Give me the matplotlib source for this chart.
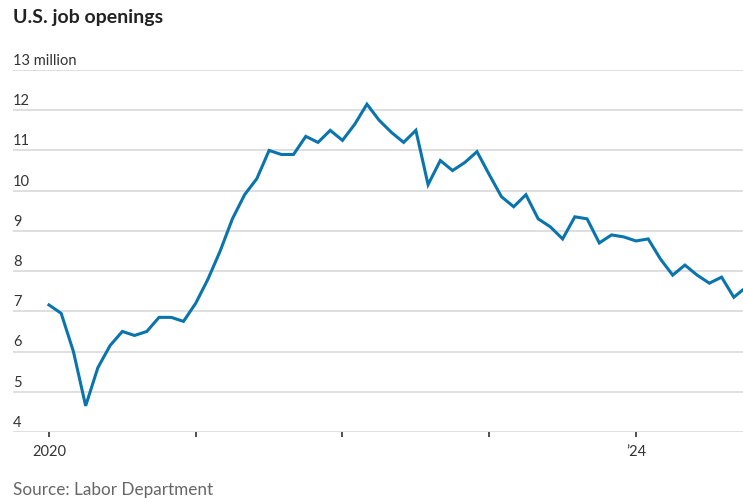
import matplotlib.pyplot as plt
from matplotlib.transforms import offset_copy

plt.rcParams['font.family'] = ['Lato', 'DejaVu Sans']

# monthly job openings, millions, Jan 2020 - Oct 2024
openings = [
    7.16, 6.95, 6.0, 4.65, 5.6, 6.15, 6.5, 6.4, 6.5, 6.85, 6.85, 6.75,      # 2020
    7.2, 7.8, 8.5, 9.3, 9.9, 10.3, 11.0, 10.9, 10.9, 11.35, 11.2, 11.5,     # 2021
    11.25, 11.65, 12.15, 11.75, 11.45, 11.2, 11.5, 10.15, 10.75, 10.5, 10.7, 10.97,  # 2022
    10.4, 9.85, 9.6, 9.9, 9.3, 9.1, 8.8, 9.35, 9.3, 8.7, 8.9, 8.85,         # 2023
    8.75, 8.8, 8.3, 7.9, 8.15, 7.9, 7.7, 7.85, 7.35, 7.6,                   # 2024
]
months = list(range(len(openings)))
ytick_values = [4, 5, 6, 7, 8, 9, 10, 11, 12, 13]
ytick_labels = ['4', '5', '6', '7', '8', '9', '10', '11', '12', '13 million']
xtick_months = [0, 12, 24, 36, 48]
xtick_labels = ['2020', '', '', '', '\u201924']

fig = plt.figure(figsize=(7.43, 4.98), dpi=100)
ax = fig.add_axes([13 / 743, 1 - 432 / 498, 1 - 13 / 743, (432 - 70) / 498])

ax.set_ylim(4, 13)
ax.set_xlim(-2.94, 56.75)

for v in ytick_values:
    ax.axhline(v, color='#dcdcdc', lw=1.3, zorder=1)

ax.plot(months, openings, color='#0a74ad', lw=2.2, solid_joinstyle='miter', zorder=3)

trans = offset_copy(ax.get_yaxis_transform(), fig=fig, x=0, y=1.5, units='points')
for v, lab in zip(ytick_values, ytick_labels):
    ax.text(0, v, lab, transform=trans, ha='left', va='bottom',
            fontsize=10.5, color='#333333')

for s in ax.spines.values():
    s.set_visible(False)
ax.set_yticks([])
ax.set_xticks(xtick_months)
ax.set_xticklabels(xtick_labels)
ax.tick_params(axis='x', length=3.5, width=1.2, color='#333333', pad=6,
               labelsize=10.5, labelcolor='#333333')

fig.text(13 / 743, 1 - 18 / 498, 'U.S. job openings', fontsize=14,
         fontweight='bold', color='#222222', ha='left', va='center')
fig.text(13 / 743, 1 - 490 / 498, 'Source: Labor Department', fontsize=12.3,
         color='#666666', ha='left', va='center')

fig.savefig('out.png', dpi=100)
